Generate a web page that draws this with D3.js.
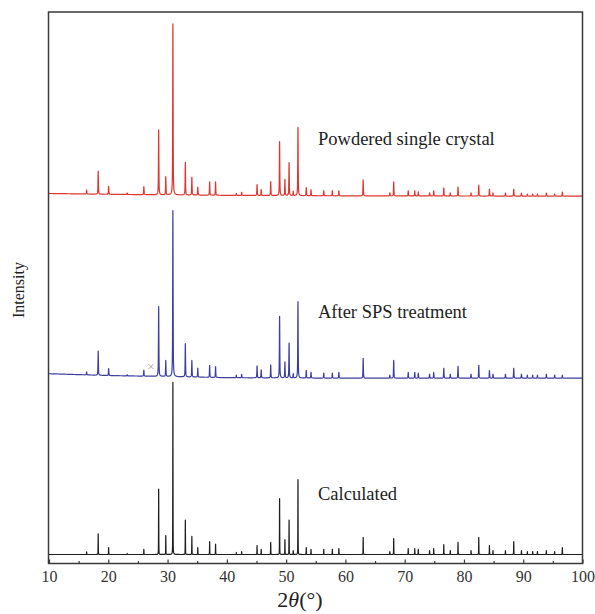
<!DOCTYPE html>
<html><head><meta charset="utf-8">
<script src="https://cdn.jsdelivr.net/npm/d3@7"></script>
<style>body{margin:0;background:#fff}svg{display:block}</style>
</head><body>
<svg id="c" width="595" height="614"></svg>
<script>
// ---- data ----
const peakPositions = [16.35, 18.3, 20.06, 23.2, 26.0, 28.5, 29.7, 30.9, 33.0, 34.1, 35.1, 37.1, 38.1, 41.6, 42.5, 45.1, 45.8, 47.4, 48.9, 49.8, 50.5, 51.2, 52.0, 53.4, 54.2, 56.35, 57.8, 58.9, 63.0, 67.5, 68.15, 70.6, 71.7, 72.3, 74.2, 74.9, 76.6, 77.7, 79.0, 81.2, 82.5, 84.3, 84.9, 87.0, 88.4, 89.7, 90.7, 91.6, 92.4, 93.9, 95.3, 96.6];
const calculatedI = [1.5, 12, 4, 0.6, 3, 38, 11, 100, 20, 10.5, 4, 7.5, 6, 1.2, 1.7, 5.2, 3, 7, 32.5, 8.7, 20, 2.3, 43.6, 4, 3, 3, 3, 3.5, 10, 1.7, 9.3, 3.5, 3.5, 3, 2.3, 3.5, 5.8, 2.3, 7, 2.3, 10, 5.2, 2.3, 2.3, 7.5, 2.3, 1.7, 1.7, 1.7, 2.3, 1.7, 4];
const spsI = [1.8, 14.5, 4.2, 0.6, 3.6, 42, 9.6, 100, 20, 10, 5.4, 7.2, 6.6, 1.5, 2, 7.2, 4.8, 7.8, 37, 9.6, 21, 2.5, 46, 4.5, 3.5, 3, 3, 3.5, 12, 1.8, 10.8, 3.5, 3.5, 3, 2.4, 3.5, 6, 2.4, 7.2, 2.4, 7.8, 4.5, 2.4, 2.4, 6, 2.4, 1.8, 1.8, 1.8, 2.4, 1.8, 1.8];
const powderI = [2.3, 13.5, 4.7, 0.8, 4.7, 38, 10.5, 100, 19, 10.5, 4.7, 7.8, 7.8, 1.2, 1.8, 6.4, 3.5, 8.2, 31.6, 9.4, 19.3, 2.5, 40, 4.7, 3.5, 3, 3, 3, 9.4, 1.8, 8.2, 3, 3, 2.4, 1.8, 3, 4.7, 1.8, 5.3, 1.8, 6.4, 4, 1.8, 1.8, 4, 1.8, 1.2, 1.2, 1.2, 1.8, 1.2, 2.4];
const bgTheta = [10, 20, 30, 40, 60, 100];
const spsBg = [2.7, 1.6, 1.0, 0.3, 0, 0];
const powderBg = [1.6, 1.1, 0.8, 0.5, 0.2, 0];
const calcBg = [0, 0, 0, 0, 0, 0];
const seriesNames = ["Powdered single crystal", "After SPS treatment", "Calculated"];
const xTicks = [10, 20, 30, 40, 50, 60, 70, 80, 90, 100];
const xMinorTicks = [15, 25, 35, 45, 55, 65, 75, 85, 95];
const markerTheta = 27.2, markerLevel = 7;

// ---- layout ----
const W = 595, H = 614;
const L = 48.5, R = 582.5, T = 12, B = 563.5;
const svg = d3.select("#c");
const x = d3.scaleLinear().domain([10, 100]).range([L + 0.5, R]);
const y = d3.scaleLinear().domain([0, 100]).range([B, T]);
const font = "'Liberation Serif','Times New Roman',serif";

const series = [
  {name: seriesNames[0], I: powderI, bg: powderBg, base: 66.6, scale: 0.310, w: 0.04, eta: 0.65, color: "#e0352f", labelY: 145},
  {name: seriesNames[1], I: spsI, bg: spsBg, base: 33.6, scale: 0.301, w: 0.04, eta: 0.65, color: "#3c3f9f", labelY: 318},
  {name: seriesNames[2], I: calculatedI, bg: calcBg, base: 1.63, scale: 0.312, w: 0.022, eta: 0.4, color: "#1e1e1e", labelY: 500}
];

function profile(s) {
  const bgScale = d3.scaleLinear().domain(bgTheta).range(s.bg);
  const pts = [];
  const step = 0.005;
  for (let t = 10; t <= 100.0001; t += step) {
    let v = 0;
    for (let i = 0; i < peakPositions.length; i++) {
      const d = (t - peakPositions[i]) / s.w;
      if (Math.abs(d) > 60) continue;
      const Lz = 1 / (1 + d * d), G = Math.exp(-Math.LN2 * d * d);
      v += s.I[i] * (s.eta * Lz + (1 - s.eta) * G);
    }
    pts.push([t, s.base + s.scale * (v + bgScale(t))]);
  }
  return pts;
}

const line = d3.line().x(d => x(d[0])).y(d => y(d[1]));
svg.append("defs").append("clipPath").attr("id", "clip")
  .append("rect").attr("x", L).attr("y", T).attr("width", R - L).attr("height", B - T);

const g = svg.append("g").attr("clip-path", "url(#clip)");
series.forEach(s => {
  g.append("path").datum(profile(s)).attr("d", line)
    .attr("fill", "none").attr("stroke", s.color).attr("stroke-width", 1.2)
    .attr("stroke-linejoin", "round");
});

// marker on SPS trace
const sps = series[1];
const mx = x(markerTheta), my = y(sps.base + sps.scale * markerLevel);
svg.append("path").attr("d", `M${mx-2.5},${my-2.5}L${mx+2.5},${my+2.5}M${mx-2.5},${my+2.5}L${mx+2.5},${my-2.5}`)
  .attr("stroke", "#999").attr("stroke-width", 0.9);

// labels
series.forEach(s => {
  svg.append("text").attr("x", 318).attr("y", s.labelY).text(s.name)
    .attr("font-family", font).attr("font-size", 18.5).attr("fill", "#222");
});

// frame
svg.append("rect").attr("x", L).attr("y", T).attr("width", R - L).attr("height", B - T)
  .attr("fill", "none").attr("stroke", "#3a3a3a").attr("stroke-width", 1.5);

// x axis
const ax = svg.append("g").attr("transform", `translate(0,${B})`)
  .call(d3.axisBottom(x).tickValues(xTicks).tickFormat(d3.format("d")).tickSizeInner(-4).tickSizeOuter(0).tickPadding(7));
ax.select(".domain").remove();
ax.selectAll("line").attr("stroke", "#3a3a3a").attr("stroke-width", 1.2);
ax.selectAll("text").attr("font-family", font).attr("font-size", 16).attr("fill", "#333");
const axm = svg.append("g").attr("transform", `translate(0,${B})`)
  .call(d3.axisBottom(x).tickValues(xMinorTicks).tickFormat("").tickSizeInner(-2.5).tickSizeOuter(0));
axm.select(".domain").remove();
axm.selectAll("line").attr("stroke", "#3a3a3a").attr("stroke-width", 1.2);

// axis titles
const xt = svg.append("text").attr("x", 300).attr("y", 607).attr("text-anchor", "middle")
  .attr("font-family", font).attr("font-size", 22).attr("fill", "#222");
xt.append("tspan").text("2");
xt.append("tspan").attr("font-style", "italic").text("θ");
xt.append("tspan").text("(°)");

svg.append("text").attr("transform", "translate(24,290) rotate(-90)").attr("text-anchor", "middle")
  .attr("font-family", font).attr("font-size", 16).attr("fill", "#222").text("Intensity");
</script>
</body></html>
